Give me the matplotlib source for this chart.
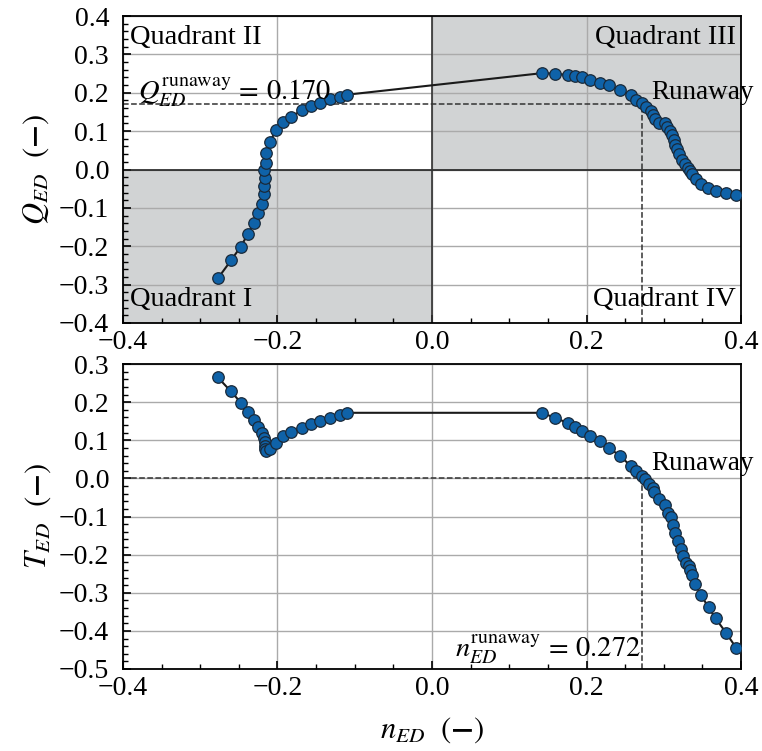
import matplotlib
matplotlib.use("Agg")
import matplotlib.pyplot as plt
from matplotlib.ticker import MultipleLocator, FuncFormatter

plt.rcParams['font.family'] = ['Liberation Serif', 'DejaVu Serif']
plt.rcParams['mathtext.fontset'] = 'stix'

# ---- data: top panel (discharge) ----
n_top = [-0.2766, -0.2602, -0.2476, -0.2382, -0.2304, -0.2246, -0.2197, -0.2175,
         -0.2171, -0.2166, -0.2171, -0.2153, -0.2145, -0.2101, -0.2016, -0.1925,
         -0.1829, -0.1687, -0.1562, -0.1450, -0.1324, -0.1195, -0.1096,
         0.142, 0.159, 0.176, 0.1855, 0.194, 0.205, 0.218, 0.2295, 0.243, 0.257,
         0.264, 0.272, 0.277, 0.283, 0.286, 0.289, 0.294, 0.301, 0.304, 0.308,
         0.311, 0.313, 0.315, 0.317, 0.320, 0.324, 0.3275, 0.331, 0.334, 0.337,
         0.342, 0.348, 0.357, 0.368, 0.3806, 0.3935]
Q_ed = [-0.282, -0.237, -0.201, -0.168, -0.139, -0.113, -0.089, -0.065,
        -0.043, -0.021, 0.000, 0.016, 0.044, 0.072, 0.103, 0.123,
        0.137, 0.154, 0.165, 0.173, 0.183, 0.190, 0.195,
        0.251, 0.250, 0.246, 0.243, 0.240, 0.234, 0.226, 0.219, 0.208, 0.194,
        0.182, 0.172, 0.163, 0.152, 0.142, 0.132, 0.121, 0.120, 0.110, 0.100,
        0.089, 0.078, 0.065, 0.054, 0.040, 0.026, 0.014, 0.003, -0.005, -0.013,
        -0.025, -0.037, -0.047, -0.055, -0.061, -0.067]

# ---- data: bottom panel (torque) ----
n_bot = [-0.2773, -0.2602, -0.2476, -0.2382, -0.2304, -0.2246, -0.2197, -0.2175,
         -0.2166, -0.2166, -0.2158, -0.2145, -0.2101, -0.2016, -0.1925, -0.1825,
         -0.1687, -0.1562, -0.1450, -0.1324, -0.1195, -0.1096,
         0.142, 0.159, 0.176, 0.1855, 0.194, 0.205, 0.218, 0.2295, 0.243, 0.257,
         0.264, 0.272, 0.276, 0.281, 0.286, 0.288, 0.294, 0.301, 0.306, 0.309,
         0.312, 0.315, 0.318, 0.322, 0.325, 0.329, 0.333, 0.334, 0.337, 0.341,
         0.348, 0.358, 0.367, 0.381, 0.3935]
T_ed = [0.265, 0.228, 0.199, 0.174, 0.154, 0.1355, 0.120, 0.106,
        0.095, 0.085, 0.076, 0.071, 0.078, 0.094, 0.110, 0.122,
        0.133, 0.143, 0.1505, 0.159, 0.165, 0.172,
        0.172, 0.159, 0.145, 0.136, 0.125, 0.112, 0.098, 0.079, 0.060, 0.033,
        0.020, 0.006, -0.001, -0.014, -0.026, -0.036, -0.054, -0.071, -0.090, -0.102,
        -0.122, -0.142, -0.164, -0.184, -0.203, -0.221, -0.230, -0.240, -0.254, -0.278,
        -0.306, -0.338, -0.367, -0.406, -0.444]

Q_runaway = 0.170
n_runaway = 0.272

quad_labels = ["Quadrant I", "Quadrant II", "Quadrant III", "Quadrant IV"]

W, H = 762, 751
fig = plt.figure(figsize=(W / 100, H / 100), dpi=100)
ax1 = fig.add_axes([123 / W, 1 - 323 / H, 618 / W, 307 / H])
ax2 = fig.add_axes([123 / W, 1 - 669 / H, 618 / W, 305 / H])

shade = '#d1d3d4'
mcol = '#0f62a8'
tick_fs = 20


def fmt(v, p):
    if abs(v) < 1e-9:
        return "0.0"
    return f"{v:.1f}".replace('-', '\u2212')


for ax in (ax1, ax2):
    ax.set_xlim(-0.4, 0.4)
    ax.xaxis.set_major_locator(MultipleLocator(0.2))
    ax.xaxis.set_minor_locator(MultipleLocator(0.05))
    ax.yaxis.set_major_locator(MultipleLocator(0.1))
    ax.yaxis.set_minor_locator(MultipleLocator(0.02))
    ax.tick_params(which='both', direction='in', top=False, right=False,
                   labelsize=tick_fs)
    ax.tick_params(which='major', length=6, width=1.2)
    ax.tick_params(which='minor', length=3.5, width=1.0)
    ax.tick_params(axis='x', which='major', pad=5)
    ax.tick_params(axis='y', which='major', pad=10)
    ax.grid(True, which='major', color='#aaaaaa', lw=1.0, zorder=0)
    ax.set_axisbelow(True)
    for s in ax.spines.values():
        s.set_linewidth(1.3)
    ax.xaxis.set_major_formatter(FuncFormatter(fmt))
    ax.yaxis.set_major_formatter(FuncFormatter(fmt))

# ---- top panel ----
ax1.set_ylim(-0.4, 0.4)
ax1.fill_between([-0.4, 0.0], -0.4, 0.0, color=shade, zorder=0.5, lw=0)
ax1.fill_between([0.0, 0.4], 0.0, 0.4, color=shade, zorder=0.5, lw=0)
ax1.axhline(0, color='#222222', lw=1.2, zorder=1)
ax1.axvline(0, color='#333333', lw=1.2, zorder=1)
ax1.plot([-0.4, n_runaway], [Q_runaway, Q_runaway], ls='--', color='#333333', lw=1.1, zorder=2)
ax1.plot([n_runaway, n_runaway], [-0.4, Q_runaway], ls='--', color='#333333', lw=1.1, zorder=2)
ax1.plot(n_top, Q_ed, '-', color='#1a1a1a', lw=1.5, marker='o', ms=8.3,
         mfc=mcol, mec='#1a2a3a', mew=0.9, zorder=3)
qfs = 20.5
ax1.text(-0.391, 0.344, quad_labels[1], fontsize=qfs, ha='left', va='center')
ax1.text(0.393, 0.344, quad_labels[2], fontsize=qfs, ha='right', va='center')
ax1.text(-0.391, -0.339, quad_labels[0], fontsize=qfs, ha='left', va='center')
ax1.text(0.393, -0.339, quad_labels[3], fontsize=qfs, ha='right', va='center')
ax1.text(0.2835, 0.20, "Runaway", fontsize=19.5, ha='left', va='center')
ax1.text(-0.381, 0.182, r"$Q_{ED}^{\mathrm{runaway}}\,=\,0.170$", fontsize=qfs,
         ha='left', va='baseline')
ax1.set_ylabel(r"$Q_{ED}$  $(\mathbf{-})$", fontsize=22, labelpad=6)

# ---- bottom panel ----
ax2.set_ylim(-0.5, 0.3)
ax2.plot([-0.4, n_runaway], [0, 0], ls='--', color='#333333', lw=1.1, zorder=2)
ax2.plot([n_runaway, n_runaway], [-0.5, 0], ls='--', color='#333333', lw=1.1, zorder=2)
ax2.plot(n_bot, T_ed, '-', color='#1a1a1a', lw=1.5, marker='o', ms=8.3,
         mfc=mcol, mec='#1a2a3a', mew=0.9, zorder=3)
ax2.text(0.2835, 0.038, "Runaway", fontsize=19.5, ha='left', va='center')
ax2.text(0.2705, -0.468, r"$n_{ED}^{\mathrm{runaway}}\,=\,0.272$", fontsize=qfs,
         ha='right', va='baseline')
ax2.set_ylabel(r"$T_{ED}$  $(\mathbf{-})$", fontsize=22, labelpad=4)
ax2.set_xlabel(r"$n_{ED}$  $(\mathbf{-})$", fontsize=22, labelpad=10)

fig.savefig("out.png", dpi=100)
